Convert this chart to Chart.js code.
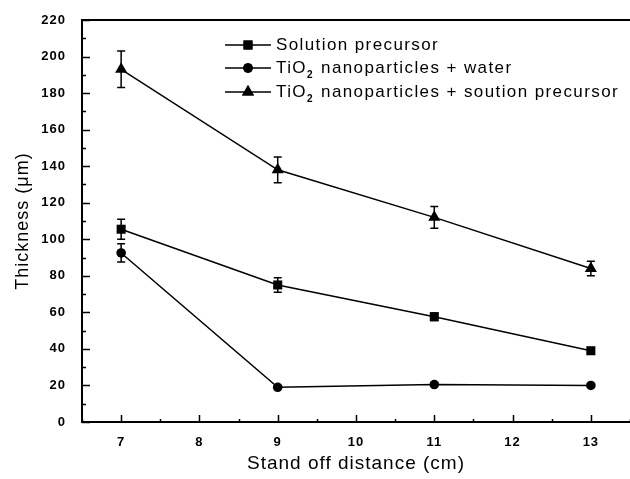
<!DOCTYPE html>
<html>
<head>
<meta charset="utf-8">
<script src="https://cdn.jsdelivr.net/npm/chart.js@4.4.0/dist/chart.umd.min.js"></script>
<style>
  html, body { margin: 0; padding: 0; background: #fff; }
  #wrap { width: 630px; height: 479px; }
</style>
</head>
<body>
<div id="wrap"><canvas id="thickness" width="630" height="479"></canvas></div>
<script>
// stand off distance (cm)
const distances = [7, 9, 11, 13];

// thickness (um) and error bar half-heights
const solutionPrecursor = [105.5, 75, 57.6, 39];
const solutionPrecursorErr = [5.5, 4, 2, 1.5];
const tio2Water = [92.5, 19, 20.5, 20];
const tio2WaterErr = [5, 1, 1, 1];
const tio2Solution = [193, 138, 112, 84];
const tio2SolutionErr = [10, 7, 6, 4];

const seriesNames = [
    'Solution precursor',
    'TiO2 nanoparticles + water',
    'TiO2 nanoparticles + soution precursor'
];
const pointStyles = ['rect', 'circle', 'triangle'];
const pointSizes = [6.4, 4.8, 7];

const yTicks = [0, 20, 40, 60, 80, 100, 120, 140, 160, 180, 200, 220];
const xTicks = [7, 8, 9, 10, 11, 12, 13];

const FONT = '"Liberation Sans", Arial, sans-serif';

function toPoints(values) {
    return values.map((v, i) => ({ x: distances[i], y: v }));
}

const makeSet = (i, values, errors) => ({
    label: seriesNames[i],
    data: toPoints(values),
    errors: errors,
    borderColor: '#000',
    backgroundColor: '#000',
    borderWidth: 1.5,
    pointStyle: pointStyles[i],
    pointRadius: pointSizes[i],
    pointBorderWidth: 0,
    tension: 0
});

/**
 * Origin-like look: spaced lettering, inward ticks and a top frame line
 */
const frameAndTicks = {
    id: 'frameAndTicks',
    beforeDraw(chart) {
        chart.ctx.letterSpacing = '1px';
    },
    afterDraw(chart) {
        const { ctx, chartArea: a, scales: { x, y } } = chart;
        ctx.save();
        ctx.strokeStyle = '#000';
        ctx.lineWidth = 2;
        ctx.beginPath();
        ctx.moveTo(a.left - 1, a.top);
        ctx.lineTo(a.right + 2, a.top);
        ctx.stroke();

        ctx.lineWidth = 1.5;
        ctx.beginPath();
        for (let v = 0; v <= 220; v += 10) {
            const py = Math.round(y.getPixelForValue(v)) + 0.5;
            const len = v % 20 === 0 ? 8 : 4;
            ctx.moveTo(a.left, py);
            ctx.lineTo(a.left + len, py);
        }
        for (let v = 6.5; v <= 13.5; v += 0.5) {
            const px = Math.round(x.getPixelForValue(v)) + 0.5;
            const len = Number.isInteger(v) ? 7 : 3;
            ctx.moveTo(px, a.bottom);
            ctx.lineTo(px, a.bottom - len);
        }
        ctx.stroke();
        ctx.restore();
    }
};

/**
 * Vertical error bars with caps
 */
const errorBars = {
    id: 'errorBars',
    beforeDatasetsDraw(chart) {
        const { ctx, scales: { x, y } } = chart;
        ctx.save();
        ctx.strokeStyle = '#000';
        ctx.lineWidth = 1.5;
        chart.data.datasets.forEach(ds => {
            ds.data.forEach((p, i) => {
                const e = ds.errors[i];
                const px = x.getPixelForValue(p.x);
                const top = y.getPixelForValue(p.y + e);
                const bot = y.getPixelForValue(p.y - e);
                ctx.beginPath();
                ctx.moveTo(px, top);
                ctx.lineTo(px, bot);
                ctx.moveTo(px - 4, top);
                ctx.lineTo(px + 4, top);
                ctx.moveTo(px - 4, bot);
                ctx.lineTo(px + 4, bot);
                ctx.stroke();
            });
        });
        ctx.restore();
    }
};

/**
 * Legend inside the plot: line + marker sample, TiO2 with subscript
 */
const insideLegend = {
    id: 'insideLegend',
    afterDraw(chart) {
        const ctx = chart.ctx;
        const rows = [45, 68, 92];
        ctx.save();
        ctx.fillStyle = '#000';
        ctx.strokeStyle = '#000';
        ctx.textBaseline = 'middle';
        ctx.letterSpacing = '1.4px';
        chart.data.datasets.forEach((ds, i) => {
            const ry = rows[i];
            ctx.lineWidth = 1.5;
            ctx.beginPath();
            ctx.moveTo(225, ry);
            ctx.lineTo(271, ry);
            ctx.stroke();
            Chart.helpers.drawPoint(ctx, {
                pointStyle: ds.pointStyle,
                radius: ds.pointRadius,
                borderWidth: 0
            }, 248, ry);
            ctx.fill();

            let tx = 276;
            const parts = ds.label.split('TiO2');
            ctx.font = '17px ' + FONT;
            if (parts.length > 1) {
                ctx.fillText('TiO', tx, ry);
                tx += ctx.measureText('TiO').width;
                ctx.font = 'bold 10px ' + FONT;
                ctx.fillText('2', tx, ry + 7);
                tx += ctx.measureText('2').width + 1;
                ctx.font = '17px ' + FONT;
                ctx.fillText(parts[1], tx, ry);
            } else {
                ctx.fillText(ds.label, tx, ry);
            }
        });
        ctx.restore();
    }
};

const config = {
    type: 'line',
    data: {
        datasets: [
            makeSet(0, solutionPrecursor, solutionPrecursorErr),
            makeSet(1, tio2Water, tio2WaterErr),
            makeSet(2, tio2Solution, tio2SolutionErr)
        ]
    },
    options: {
        responsive: false,
        animation: false,
        layout: {
            autoPadding: false,
            padding: { top: 20, right: 0, left: 0, bottom: 0 }
        },
        plugins: {
            legend: { display: false },
            tooltip: { enabled: false }
        },
        scales: {
            x: {
                type: 'linear',
                min: 6.5,
                max: 13.5,
                afterBuildTicks: scale => {
                    scale.ticks = xTicks.map(v => ({ value: v }));
                },
                afterFit: scale => {
                    scale.height = 57;
                    scale.paddingLeft = 0;
                    scale.paddingRight = 0;
                },
                grid: { display: false },
                border: { display: true, color: '#000', width: 2 },
                ticks: {
                    color: '#000',
                    padding: 5,
                    maxRotation: 0,
                    font: { family: FONT, size: 13, weight: 'bold' }
                },
                title: {
                    display: true,
                    text: 'Stand off distance (cm)',
                    color: '#000',
                    padding: { top: 0, bottom: 4 },
                    font: { family: FONT, size: 19 }
                }
            },
            y: {
                min: 0,
                max: 220,
                afterBuildTicks: scale => {
                    scale.ticks = yTicks.map(v => ({ value: v }));
                },
                afterFit: scale => {
                    scale.width = 82;
                    scale.paddingTop = 0;
                    scale.paddingBottom = 0;
                },
                grid: { display: false },
                border: { display: true, color: '#000', width: 2 },
                ticks: {
                    color: '#000',
                    padding: 8,
                    font: { family: FONT, size: 13, weight: 'bold' }
                },
                title: {
                    display: true,
                    text: 'Thickness (\u03bcm)',
                    color: '#000',
                    padding: { top: 12, bottom: 0 },
                    font: { family: FONT, size: 18 }
                }
            }
        }
    },
    plugins: [frameAndTicks, errorBars, insideLegend]
};

new Chart(document.getElementById('thickness').getContext('2d'), config);
</script>
</body>
</html>
